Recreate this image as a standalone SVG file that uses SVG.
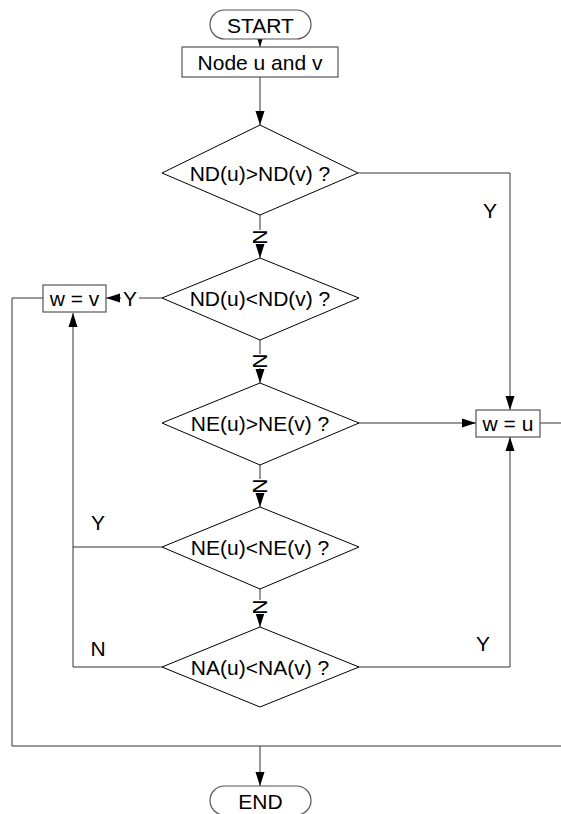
<svg xmlns="http://www.w3.org/2000/svg" width="561" height="814" viewBox="0 0 561 814">
<defs>
<style>
.t{font-family:"Liberation Sans",Arial,sans-serif;font-size:21px;fill:#000;text-anchor:middle;dominant-baseline:central}
.s{fill:#fff;stroke:#000;stroke-width:1}
.b{fill:#fff;stroke:#555;stroke-width:1.2}
.c{fill:none;stroke:#333;stroke-width:1}
</style>
<marker id="a" viewBox="0 0 14 10" refX="14" refY="5" markerWidth="14" markerHeight="10" markerUnits="userSpaceOnUse" orient="auto">
<path d="M0,0.5 L14,5 L0,9.5 z" fill="#000"/>
</marker>
</defs>
<rect width="561" height="814" fill="#fff"/>
<g id="connectors">
<line class="c" x1="260" y1="39" x2="260" y2="47" marker-end="url(#a)"/>
<line class="c" x1="260" y1="77" x2="260" y2="125" marker-end="url(#a)"/>
<polyline class="c" points="358,173 510,173 510,410" marker-end="url(#a)"/>
<line class="c" x1="260" y1="215" x2="260" y2="258" marker-end="url(#a)"/>
<line class="c" x1="162" y1="298" x2="106" y2="298" marker-end="url(#a)"/>
<polyline class="c" points="43,298 12,298 12,746 561,746"/>
<line class="c" x1="260" y1="340" x2="260" y2="383" marker-end="url(#a)"/>
<line class="c" x1="358" y1="423" x2="476" y2="423" marker-end="url(#a)"/>
<line class="c" x1="540" y1="423" x2="561" y2="423"/>
<line class="c" x1="260" y1="465" x2="260" y2="507" marker-end="url(#a)"/>
<polyline class="c" points="162,547 73,547"/>
<polyline class="c" points="162,667 73,667 73,313" marker-end="url(#a)"/>
<line class="c" x1="260" y1="589" x2="260" y2="627" marker-end="url(#a)"/>
<polyline class="c" points="358,667 510,667 510,437" marker-end="url(#a)"/>
<line class="c" x1="260" y1="746" x2="260" y2="786" marker-end="url(#a)"/>
</g>
<g id="labels">
<rect x="250" y="230" width="20" height="14" fill="#fff"/>
<text class="t" transform="translate(260,237) rotate(90)">N</text>
<rect x="250" y="354" width="20" height="14" fill="#fff"/>
<text class="t" transform="translate(260,361) rotate(90)">N</text>
<rect x="250" y="479" width="20" height="14" fill="#fff"/>
<text class="t" transform="translate(260,486) rotate(90)">N</text>
<rect x="250" y="600" width="20" height="14" fill="#fff"/>
<text class="t" transform="translate(260,607) rotate(90)">N</text>
<rect x="121" y="290" width="18" height="16" fill="#fff"/>
<text class="t" x="130" y="298">Y</text>
<text class="t" x="490" y="210">Y</text>
<text class="t" x="98" y="522">Y</text>
<text class="t" x="98" y="648">N</text>
<text class="t" x="483" y="643">Y</text>
</g>
<g id="start">
<rect class="b" x="210" y="10" width="101" height="29" rx="14.5"/>
<text class="t" x="260.5" y="25">START</text>
</g>
<g id="node-uv">
<rect class="b" x="182" y="47" width="156" height="30"/>
<text class="t" x="260" y="62">Node u and v</text>
</g>
<g id="d1">
<polygon class="s" points="260,125 358,173 260,215 162,173"/>
<text class="t" x="260" y="173">ND(u)&gt;ND(v) ?</text>
</g>
<g id="d2">
<polygon class="s" points="260,258 359,298 260,340 162,298"/>
<text class="t" x="260" y="298">ND(u)&lt;ND(v) ?</text>
</g>
<g id="d3">
<polygon class="s" points="260,383 359,423 260,465 162,423"/>
<text class="t" x="260" y="423">NE(u)&gt;NE(v) ?</text>
</g>
<g id="d4">
<polygon class="s" points="260,507 359,547 260,589 162,547"/>
<text class="t" x="260" y="547">NE(u)&lt;NE(v) ?</text>
</g>
<g id="d5">
<polygon class="s" points="260,627 359,667 260,707 162,667"/>
<text class="t" x="260" y="667">NA(u)&lt;NA(v) ?</text>
</g>
<g id="w-v">
<rect class="b" x="43" y="285" width="63" height="27"/>
<text class="t" x="74.5" y="298.5">w = v</text>
</g>
<g id="w-u">
<rect class="b" x="476" y="410" width="64" height="27"/>
<text class="t" x="508" y="423.5">w = u</text>
</g>
<g id="end">
<rect class="b" x="210" y="786" width="101" height="29" rx="14.5"/>
<text class="t" x="260.5" y="801">END</text>
</g>
</svg>
